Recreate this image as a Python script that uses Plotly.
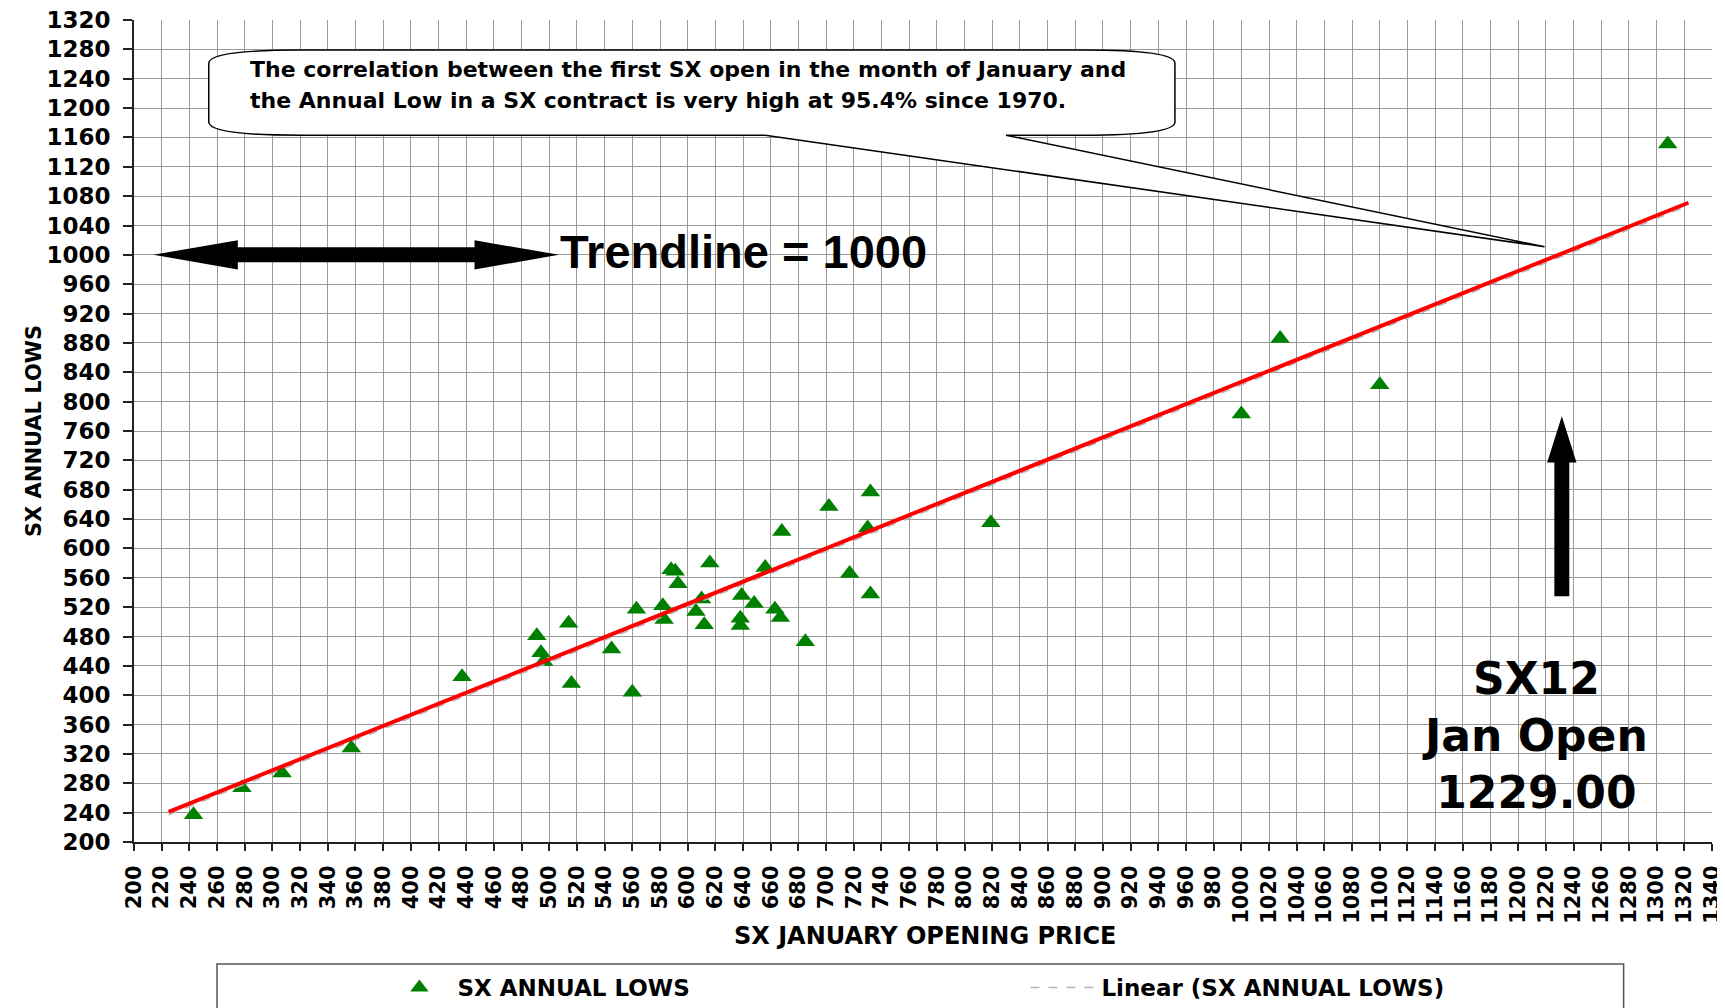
import plotly.graph_objects as go

# SX January opening price vs the annual low of the SX contract
jan_open = [243, 278, 307, 357, 437, 491, 494, 496, 514, 516, 545, 560, 563, 582,
            583, 588, 591, 593, 610, 606, 612, 616, 639, 638, 638, 648, 656, 663,
            667, 668, 685, 702, 717, 730, 732, 732, 819, 1000, 1028, 1100, 1308]
annual_low = [237, 274, 294, 328, 425, 481, 458, 446, 498, 416, 463, 404, 517, 522,
              503, 571, 569, 552, 531, 514, 496, 580, 536, 505, 495, 525, 574, 517,
              506, 623, 473, 657, 566, 628, 677, 538, 635, 783, 886, 823, 1151]

# hand drawn red trendline and the Excel linear trendline just under it
trend_x = [225, 1323]
trend_y = [241, 1071]
excel_trend_y = [237, 1067]

sx12_open = "1229.00"
trend_level = 1000

BOLD = dict(family="DejaVu Sans", weight="bold", color="black")
ARIAL_B = dict(family="Liberation Sans, Arial, sans-serif", weight="bold", color="black")

fig = go.Figure()
fig.add_trace(go.Scatter(
    x=jan_open, y=annual_low, mode="markers", name="SX ANNUAL LOWS",
    marker=dict(symbol="triangle-up", size=17, color="#008000", line=dict(width=0))))
fig.add_trace(go.Scatter(
    x=trend_x, y=excel_trend_y, mode="lines", name="Linear (SX ANNUAL LOWS)",
    line=dict(color="#b4b4b4", width=1.5, dash="dash")))
fig.add_trace(go.Scatter(
    x=trend_x, y=trend_y, mode="lines", showlegend=False, hoverinfo="skip",
    line=dict(color="#ff0000", width=4)))

# callout bubble (data coords)
L, R, TOP, SIDE_T, SIDE_B, BOT = 254, 952, 1279, 1261, 1181, 1163
tip = (1219, 1011)
callout = (f"M {L},{SIDE_B} L {L},{SIDE_T} Q {L},{TOP} {L+66},{TOP} L {R-66},{TOP} "
           f"Q {R},{TOP} {R},{SIDE_T} L {R},{SIDE_B} Q {R},{BOT} {R-66},{BOT} "
           f"L 830,{BOT} L {tip[0]},{tip[1]} L 656,{BOT} L {L+66},{BOT} Q {L},{BOT} {L},{SIDE_B} Z")

# double headed arrow at the trend level
y0 = trend_level
dbl = (f"M 214,{y0} L 275,{y0+19.8} L 275,{y0+10.2} L 446,{y0+10.2} L 446,{y0+19.8} "
       f"L 507,{y0} L 446,{y0-19.8} L 446,{y0-10.2} L 275,{y0-10.2} L 275,{y0-19.8} Z")

# up arrow over the Jan open
cx = 1231.5
up = (f"M {cx},780 L {cx+10.6},717 L {cx+5.4},717 L {cx+5.4},535 L {cx-5.4},535 "
      f"L {cx-5.4},717 L {cx-10.6},717 Z")

shapes = [
    dict(type="path", path=callout, xref="x", yref="y", fillcolor="white",
         line=dict(color="black", width=1.5)),
    dict(type="path", path=dbl, xref="x", yref="y", fillcolor="black", line=dict(width=0)),
    dict(type="path", path=up, xref="x", yref="y", fillcolor="black", line=dict(width=0)),
    # legend frame
    dict(type="rect", xref="paper", yref="paper", x0=0.0526, x1=0.944, y0=-0.215, y1=-0.1484,
         line=dict(color="#555555", width=1.5), fillcolor="rgba(0,0,0,0)"),
]

annotations = [
    dict(text="The correlation between the first SX open in the month of January and",
         x=282, y=1253, xref="x", yref="y", xanchor="left", yanchor="middle",
         showarrow=False, font=dict(size=22, **BOLD)),
    dict(text="the Annual Low in a SX contract is very high at 95.4% since 1970.",
         x=282, y=1211, xref="x", yref="y", xanchor="left", yanchor="middle",
         showarrow=False, font=dict(size=22, **BOLD)),
    dict(text=f"Trendline = {trend_level}", x=506, y=1004, xref="x", yref="y",
         xanchor="left", yanchor="middle", showarrow=False, font=dict(size=47, **ARIAL_B)),
    dict(text=f"SX12<br>Jan Open<br>{sx12_open}", x=1212, y=345, xref="x", yref="y",
         showarrow=False, yanchor="middle", font=dict(size=44, **BOLD)),
    # axis titles
    dict(text="SX JANUARY OPENING PRICE", x=0.5019, y=-0.114, xref="paper", yref="paper",
         yanchor="middle", showarrow=False, font=dict(size=24, **BOLD)),
    dict(text="SX ANNUAL LOWS", x=-0.0722, y=0.5, xref="paper", yref="paper",
         textangle=-90, showarrow=False, font=dict(size=21, **BOLD)),
]

# page body has an 8px margin, so the figure is a bit smaller than the window
fig.update_layout(
    template="none",
    width=1717, height=1000,
    margin=dict(l=126, r=13, t=12, b=166, autoexpand=False),
    paper_bgcolor="white", plot_bgcolor="white",
    shapes=shapes, annotations=annotations,
    showlegend=True,
    legend=dict(orientation="h", x=0.1568, xanchor="left", y=-0.177, yanchor="middle",
                font=dict(size=23, **BOLD), entrywidth=563, itemwidth=66,
                bgcolor="rgba(0,0,0,0)", borderwidth=0),
    xaxis=dict(range=[200, 1340], tick0=200, dtick=20, tickangle=-90,
               ticks="outside", ticklen=7, tickwidth=1.5, tickcolor="#222",
               showline=True, linecolor="#222", linewidth=2,
               showgrid=True, gridcolor="#999999", gridwidth=1, zeroline=False,
               ticklabelstandoff=6, ticklabeloverflow="allow",
               tickfont=dict(size=21, **BOLD), automargin=False),
    yaxis=dict(range=[200, 1320], tick0=200, dtick=40,
               ticks="outside", ticklen=9, tickwidth=1.5, tickcolor="#222",
               showline=True, linecolor="#222", linewidth=2,
               showgrid=True, gridcolor="#999999", gridwidth=1, zeroline=False,
               ticklabelstandoff=8, ticklabeloverflow="allow",
               tickfont=dict(size=23, **BOLD), automargin=False),
)

fig.write_html("out.html")
